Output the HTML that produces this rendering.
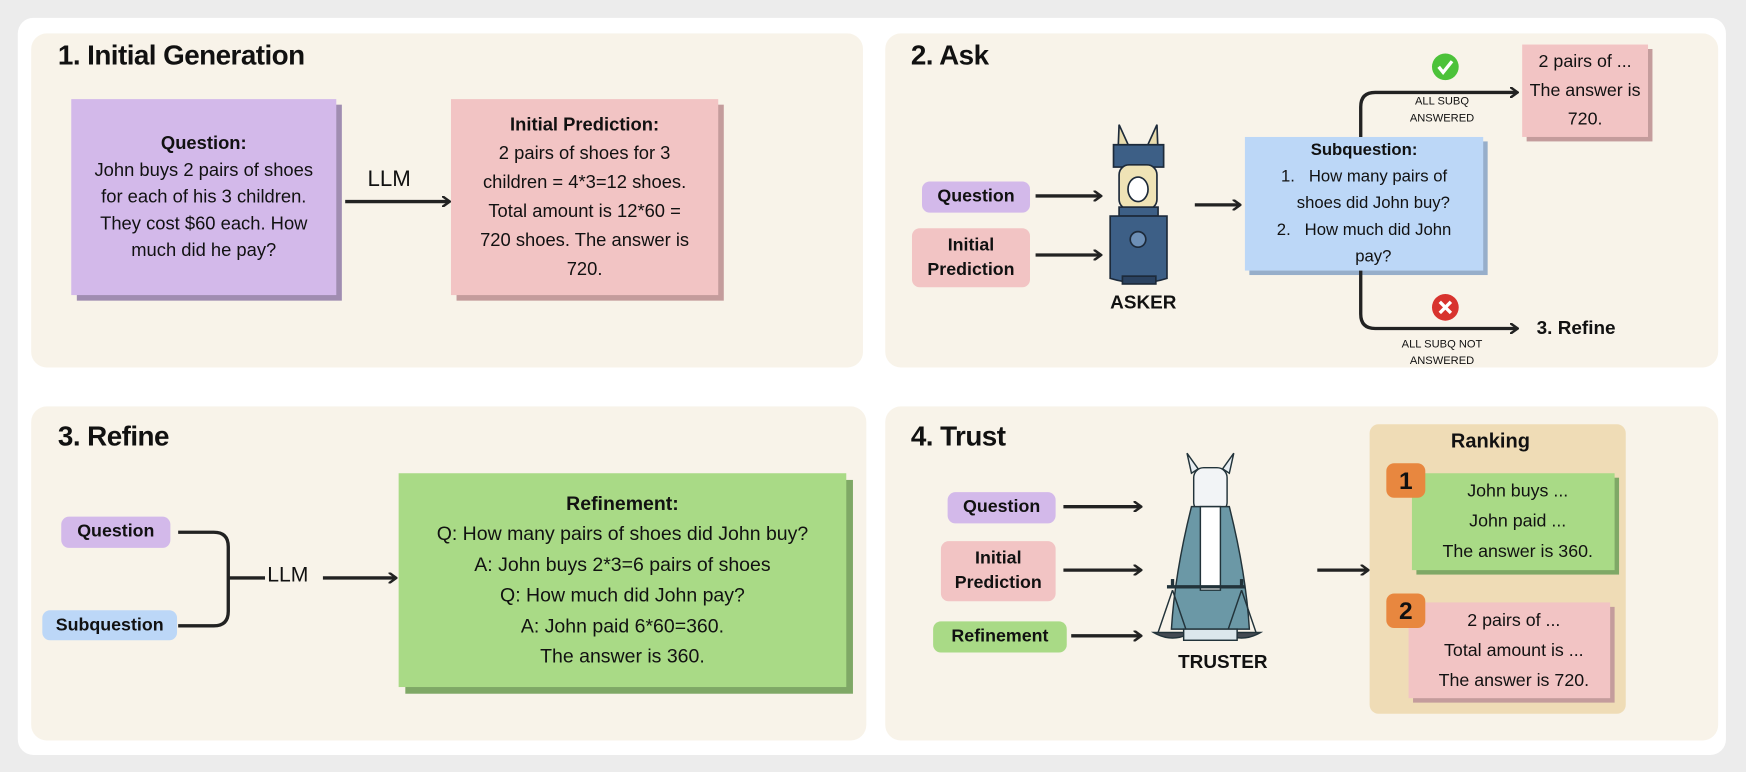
<!DOCTYPE html>
<html><head><meta charset="utf-8"><style>
html,body{margin:0;padding:0;width:1746px;height:772px;overflow:hidden;background:#ececec;}
#s{position:absolute;left:0;top:0;width:1568px;height:693px;transform:scale(1.11352);transform-origin:0 0;font-family:"Liberation Sans",sans-serif;color:#111;}
.a{position:absolute;box-sizing:border-box;}
.card{left:16px;top:16px;width:1534px;height:662px;background:#fff;border-radius:14px;}
.p{background:#f8f3e9;border-radius:14px;}
.t{font-weight:bold;font-size:25px;letter-spacing:-0.5px;}
.box{text-align:center;font-size:17px;line-height:24px;display:flex;flex-direction:column;justify-content:center;white-space:nowrap;}
.pill{border-radius:7px;text-align:center;font-weight:bold;font-size:16px;line-height:22px;display:flex;align-items:center;justify-content:center;}
.pu{background:#d3b9ea;} .pk{background:#f2c4c4;} .bl{background:#bcd7f7;} .gr{background:#a9da86;}
.sm{font-size:10px;text-align:center;line-height:15px;}
</style></head><body><div id="s">
<div class="a card"></div>
<div class="a p" style="left:28px;top:30px;width:747px;height:300px"></div>
<div class="a p" style="left:795px;top:30px;width:748px;height:300px"></div>
<div class="a p" style="left:28px;top:365px;width:750px;height:300px"></div>
<div class="a p" style="left:795px;top:365px;width:748px;height:300px"></div>

<div class="a t" style="left:52px;top:36px">1. Initial Generation</div>
<div class="a t" style="left:818px;top:36px">2. Ask</div>
<div class="a t" style="left:52px;top:378px">3. Refine</div>
<div class="a t" style="left:818px;top:378px">4. Trust</div>

<!-- panel 1 -->
<div class="a" style="left:69px;top:94px;width:238px;height:176px;background:#a08db1"></div>
<div class="a box pu" style="left:64px;top:89px;width:238px;height:176px;font-size:16.5px"><b>Question:</b>John buys 2 pairs of shoes<br>for each of his 3 children.<br>They cost $60 each. How<br>much did he pay?</div>
<div class="a" style="left:330px;top:150px;font-size:20px">LLM</div>
<div class="a" style="left:410px;top:94px;width:240px;height:176px;background:#c49c9c"></div>
<div class="a box pk" style="left:405px;top:89px;width:240px;height:176px;font-size:16.5px;line-height:26px"><b>Initial Prediction:</b>2 pairs of shoes for 3<br>children = 4*3=12 shoes.<br>Total amount is 12*60 =<br>720 shoes. The answer is<br>720.</div>

<!-- panel 2 -->
<div class="a pill pu" style="left:828px;top:163px;width:97px;height:28px">Question</div>
<div class="a pill pk" style="left:819px;top:205px;width:106px;height:53px">Initial<br>Prediction</div>
<div class="a" style="left:997px;top:262px;font-weight:bold;font-size:17px">ASKER</div>
<div class="a" style="left:1122px;top:127px;width:214px;height:120px;background:#97aeca"></div>
<div class="a bl" style="left:1118px;top:123px;width:214px;height:120px;font-size:15px;line-height:24px;text-align:center"><b>Subquestion:</b><br>1.&nbsp;&nbsp; How many pairs of<br>&nbsp;&nbsp;&nbsp;&nbsp;shoes did John buy?<br>2.&nbsp;&nbsp; How much did John<br>&nbsp;&nbsp;&nbsp;&nbsp;pay?</div>
<div class="a" style="left:1371px;top:44px;width:113px;height:83px;background:#c49c9c"></div>
<div class="a box pk" style="left:1367px;top:40px;width:113px;height:83px;font-size:16px;line-height:26px">2 pairs of ...<br>The answer is<br>720.</div>
<div class="a sm" style="left:1245px;top:84px;width:100px">ALL SUBQ<br>ANSWERED</div>
<div class="a sm" style="left:1240px;top:302px;width:110px">ALL SUBQ NOT<br>ANSWERED</div>
<div class="a" style="left:1380px;top:285px;font-weight:bold;font-size:17px">3. Refine</div>

<!-- panel 3 -->
<div class="a pill pu" style="left:55px;top:464px;width:98px;height:28px">Question</div>
<div class="a pill bl" style="left:38px;top:548px;width:121px;height:27px">Subquestion</div>
<div class="a" style="left:240px;top:506px;font-size:19px">LLM</div>
<div class="a" style="left:364px;top:431px;width:402px;height:192px;background:#7fa866"></div>
<div class="a box gr" style="left:358px;top:425px;width:402px;height:192px;font-size:17.5px;line-height:27.5px"><b>Refinement:</b>Q: How many pairs of shoes did John buy?<br>A: John buys 2*3=6 pairs of shoes<br>Q: How much did John pay?<br>A: John paid 6*60=360.<br>The answer is 360.</div>

<!-- panel 4 -->
<div class="a pill pu" style="left:851px;top:442px;width:97px;height:28px">Question</div>
<div class="a pill pk" style="left:845px;top:486px;width:103px;height:54px">Initial<br>Prediction</div>
<div class="a pill gr" style="left:838px;top:558px;width:120px;height:28px">Refinement</div>
<div class="a" style="left:1058px;top:585px;font-weight:bold;font-size:17px">TRUSTER</div>
<div class="a" style="left:1230px;top:381px;width:230px;height:260px;background:#efdcb6;border-radius:8px"></div>
<div class="a" style="left:1303px;top:386px;font-weight:bold;font-size:18px">Ranking</div>
<div class="a" style="left:1272px;top:429px;width:182px;height:87px;background:#7fa866"></div>
<div class="a box gr" style="left:1268px;top:425px;width:182px;height:87px;font-size:16px;line-height:27px;padding-left:8px">John buys ...<br>John paid ...<br>The answer is 360.</div>
<div class="a" style="left:1269px;top:545px;width:181px;height:86px;background:#c49c9c"></div>
<div class="a box pk" style="left:1265px;top:541px;width:181px;height:86px;font-size:16px;line-height:27px;padding-left:8px">2 pairs of ...<br>Total amount is ...<br>The answer is 720.</div>
<div class="a" style="left:1245px;top:416px;width:35px;height:31px;background:#e8873f;border-radius:7px;color:#111;font-weight:bold;font-size:22px;text-align:center;line-height:31px">1</div>
<div class="a" style="left:1245px;top:533px;width:35px;height:31px;background:#e8873f;border-radius:7px;color:#111;font-weight:bold;font-size:22px;text-align:center;line-height:31px">2</div>

<svg class="a" style="left:0;top:0" width="1568" height="693">
<defs><marker id="h" markerWidth="8" markerHeight="10" refX="6" refY="5" orient="auto" markerUnits="userSpaceOnUse"><path d="M0,0 L7,5 L0,10" fill="none" stroke="#222" stroke-width="2.2"/></marker></defs>
<g stroke="#222" stroke-width="3" fill="none" marker-end="url(#h)">
<line x1="310" y1="181" x2="403" y2="181"/>
<line x1="930" y1="176" x2="988" y2="176"/>
<line x1="930" y1="229" x2="988" y2="229"/>
<line x1="1073" y1="184" x2="1113" y2="184"/>
<path d="M1222,123 V96 Q1222,83 1235,83 H1362"/>
<path d="M1222,243 V282 Q1222,295 1235,295 H1362"/>
<line x1="290" y1="519" x2="355" y2="519"/>
<line x1="955" y1="455" x2="1024" y2="455"/>
<line x1="955" y1="512" x2="1024" y2="512"/>
<line x1="962" y1="571" x2="1024" y2="571"/>
<line x1="1183" y1="512" x2="1228" y2="512"/>
</g>
<g stroke="#222" stroke-width="3" fill="none">
<path d="M160,478 H192 Q205,478 205,491 V549 Q205,562 192,562 H160"/>
<line x1="205" y1="519" x2="238" y2="519"/>
</g>
<circle cx="1298" cy="60" r="12" fill="#4cc23a"/><path d="M1292,60 l4,5 l8,-10" stroke="#fff" stroke-width="3" fill="none"/>
<circle cx="1298" cy="276" r="12" fill="#d8332e"/><path d="M1293,271 l10,10 M1303,271 l-10,10" stroke="#fff" stroke-width="3"/>
<!-- asker llama -->
<g stroke="#1d2a3a" stroke-width="1.5">
<path d="M1004,138 l1,-26 l10,22 z M1040,138 l-1,-26 l-10,22 z" fill="#e9dcae"/>
<path d="M1000,130 h45 v20 h-45 z" fill="#3d5f86"/>
<rect x="1005" y="148" width="34" height="40" rx="9" fill="#efe3b6"/>
<ellipse cx="1022" cy="170" rx="9" ry="11" fill="#fff"/>
<rect x="1005" y="186" width="35" height="8" fill="#3d5f86"/>
<path d="M997,194 h51 v56 q-25,8 -51,0 z" fill="#3d5f86"/>
<circle cx="1022" cy="215" r="7" fill="#6d8fb6"/>
<rect x="1008" y="248" width="30" height="7" fill="#2b4260"/>
</g>
<!-- truster llama -->
<g stroke="#22333a" stroke-width="1.3">
<path d="M1070,425 l-4,-18 l10,14 z M1104,425 l4,-18 l-10,14 z" fill="#e8eef2"/>
<rect x="1072" y="420" width="30" height="40" rx="9" fill="#f2f4f6"/>
<path d="M1070,455 q-15,60 -18,110 h70 q-3,-50 -18,-110 z" fill="#6b98a6"/>
<path d="M1078,455 h18 v75 h-18 z" fill="#fff"/>
<line x1="1048" y1="527" x2="1118" y2="527" stroke-width="3"/>
<line x1="1053" y1="527" x2="1053" y2="520" stroke-width="3"/><line x1="1115" y1="527" x2="1115" y2="520" stroke-width="3"/>
<path d="M1053,530 l-13,38 M1053,530 l13,38 M1115,530 l-13,38 M1115,530 l13,38" fill="none"/>
<path d="M1036,568 h34 q-17,10 -34,0 z M1098,568 h34 q-17,10 -34,0 z" fill="#444a52"/>
<rect x="1063" y="565" width="48" height="10" fill="#dce7ec"/>
</g>
</svg>
</div></body></html>
